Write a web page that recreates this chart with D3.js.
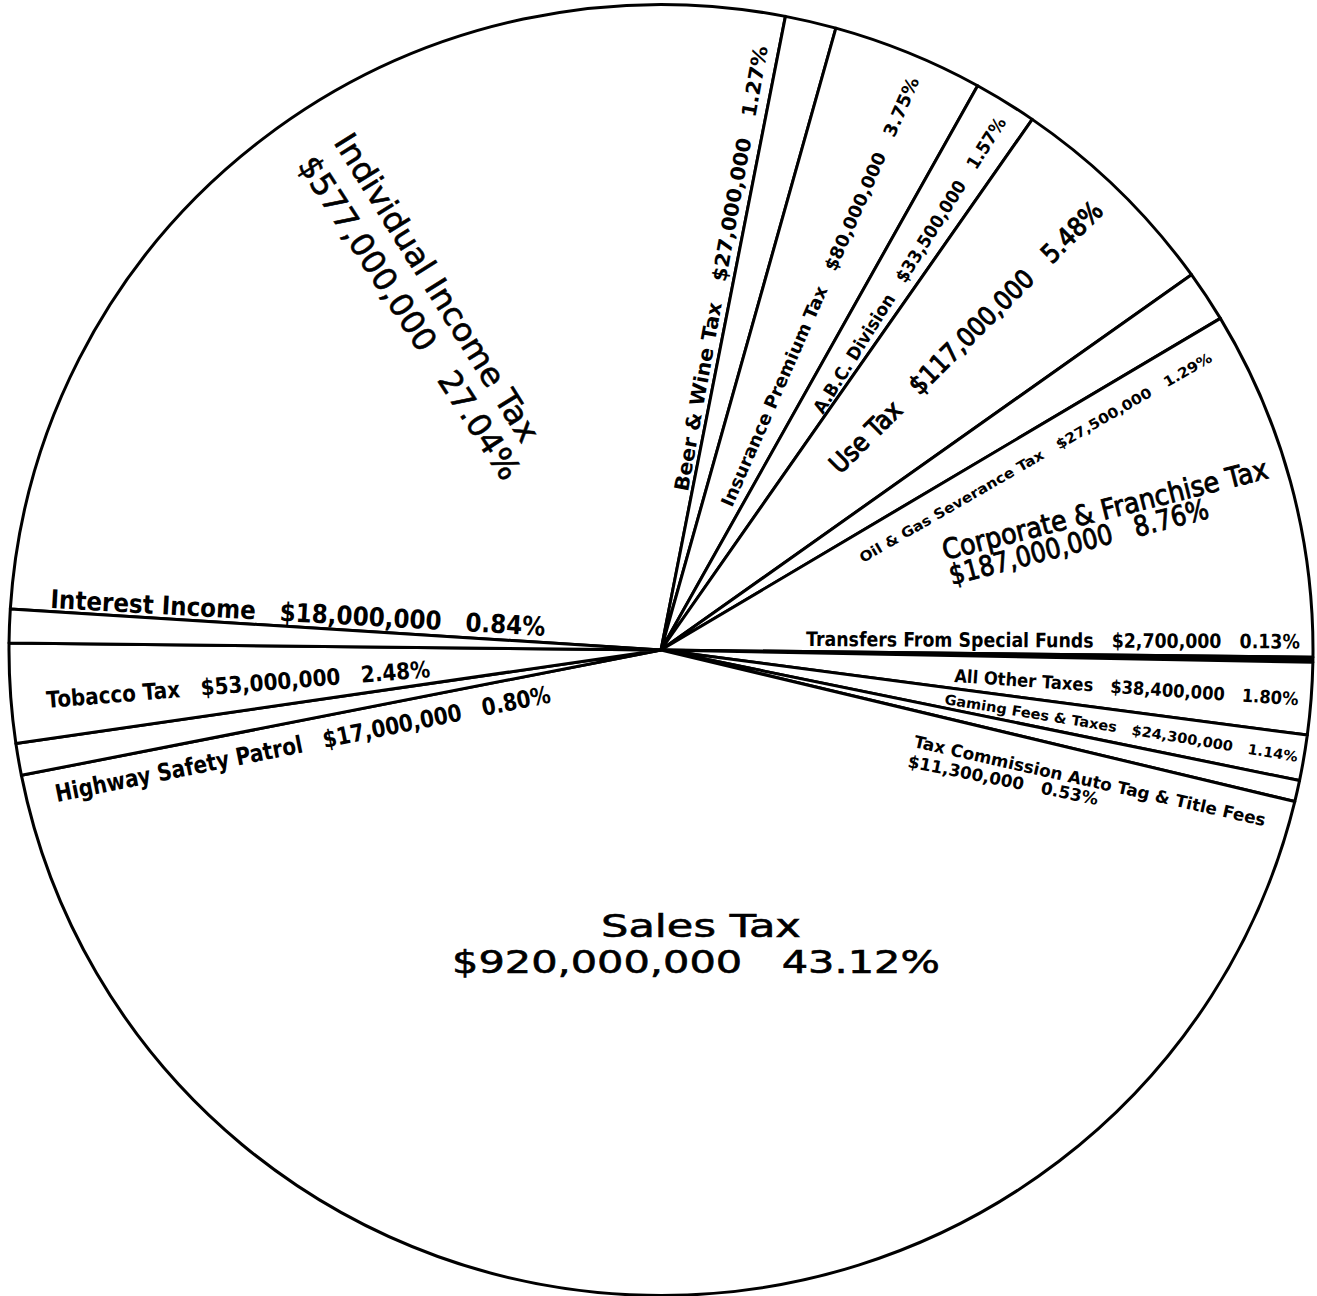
<!DOCTYPE html>
<html><head><meta charset="utf-8">
<script src="https://cdn.jsdelivr.net/npm/d3@7/dist/d3.min.js"></script>
<style>
html,body{margin:0;padding:0;background:#fff;}
svg{display:block;}
text{white-space:pre;}
</style>
</head><body>
<svg id="chart" width="1317" height="1296"></svg>
<script>
// ---- data ----
const categories = [
  "Individual Income Tax", "Beer & Wine Tax", "Insurance Premium Tax", "A.B.C. Division",
  "Use Tax", "Oil & Gas Severance Tax", "Corporate & Franchise Tax", "Transfers From Special Funds",
  "All Other Taxes", "Gaming Fees & Taxes", "Tax Commission Auto Tag & Title Fees", "Sales Tax",
  "Highway Safety Patrol", "Tobacco Tax", "Interest Income"
];
const amounts = [
  577000000, 27000000, 80000000, 33500000,
  117000000, 27500000, 187000000, 2700000,
  38400000, 24300000, 11300000, 920000000,
  17000000, 53000000, 18000000
];
const percents = [
  "27.04%", "1.27%", "3.75%", "1.57%",
  "5.48%", "1.29%", "8.76%", "0.13%",
  "1.80%", "1.14%", "0.53%", "43.12%",
  "0.80%", "2.48%", "0.84%"
];

// ---- layout / style (not data) ----
const W = 1317, H = 1296;
const cx = 661, cy = 650, R = 652, squash = 0.99;
const startDeg = -86.35;
// label placement: baseline start relative to the pie centre, rotation, text length
const labelLayout = [
  {size: 32, weight: "normal", sw: 0.6, two: true, lines: [[-328,-508,58,357], [-364,-485,57,379]]},
  {size: 20, weight: "bold", sw: 0, lines: [[27,-158,-79.8,452]]},
  {size: 18, weight: "bold", sw: 0, lines: [[71,-142,-66.3,467]]},
  {size: 18, weight: "bold", sw: 0, lines: [[162,-235,-57.9,346]]},
  {size: 26, weight: "normal", sw: 1.1, lines: [[179,-175,-44.8,373]]},
  {size: 14, weight: "bold", sw: 0, lines: [[202,-87,-30,405]]},
  {size: 28, weight: "normal", sw: 0.9, two: true, lines: [[284,-90,-14.2,335], [291,-65,-14.6,267]]},
  {size: 20, weight: "bold", sw: 0, lines: [[145,-4,0.3,494]]},
  {size: 18, weight: "bold", sw: 0, lines: [[293,32,3.9,345]]},
  {size: 14, weight: "bold", sw: 0, lines: [[283,54,9.3,358]]},
  {size: 17, weight: "bold", sw: 0, two: true, lines: [[252,97,12.7,360], [246,117,11.3,194]]},
  {size: 32, weight: "normal", sw: 0.6, two: true, lines: [[-60,287,0,200], [-209,323,0,488]]},
  {size: 24, weight: "bold", sw: 0, lines: [[-604,152,-11.4,505]]},
  {size: 23, weight: "bold", sw: 0, lines: [[-614,58,-4.6,385]]},
  {size: 26, weight: "bold", sw: 0, lines: [[-611,-42,3.2,496]]}
];

const fmt = d3.format(",");
const rows = categories.map((c, i) => ({name: c, value: amounts[i], pct: percents[i], i}));

const svg = d3.select("#chart");
svg.append("rect").attr("width", W).attr("height", H).attr("fill", "#fff");

const pie = d3.pie().sort(null).value(d => d.value)
  .startAngle(startDeg * Math.PI / 180)
  .endAngle(startDeg * Math.PI / 180 + 2 * Math.PI);
const arc = d3.arc().innerRadius(0).outerRadius(R);

const g = svg.append("g").attr("transform", `translate(${cx},${cy}) scale(1,${squash})`);
g.selectAll("path.slice").data(pie(rows)).join("path")
  .attr("class", "slice")
  .attr("d", arc)
  .attr("fill", d => (d.endAngle - d.startAngle) < 0.01 ? "#000" : "#fff")
  .attr("stroke", "#000")
  .attr("stroke-width", 3)
  .attr("stroke-linejoin", "round")
  .attr("vector-effect", "non-scaling-stroke");

const labels = svg.append("g").attr("font-family", "'DejaVu Sans', 'Liberation Sans', sans-serif").attr("fill", "#000");
rows.forEach((r, i) => {
  const L = labelLayout[i];
  const money = "$" + fmt(r.value);
  const texts = L.two ? [r.name, money + "   " + r.pct] : [r.name + "   " + money + "   " + r.pct];
  texts.forEach((t, k) => {
    const [dx, dy, rot, len] = L.lines[k];
    const node = labels.append("text")
      .attr("font-size", L.size)
      .attr("font-weight", L.weight)
      .attr("stroke", L.sw ? "#000" : "none")
      .attr("stroke-width", L.sw)
      .text(t);
    const natural = node.node().getComputedTextLength() || len;
    const sx = len / natural;
    node.attr("transform", `translate(${cx + dx},${cy + dy}) rotate(${rot}) scale(${sx},1)`);
  });
});
</script>
</body></html>
